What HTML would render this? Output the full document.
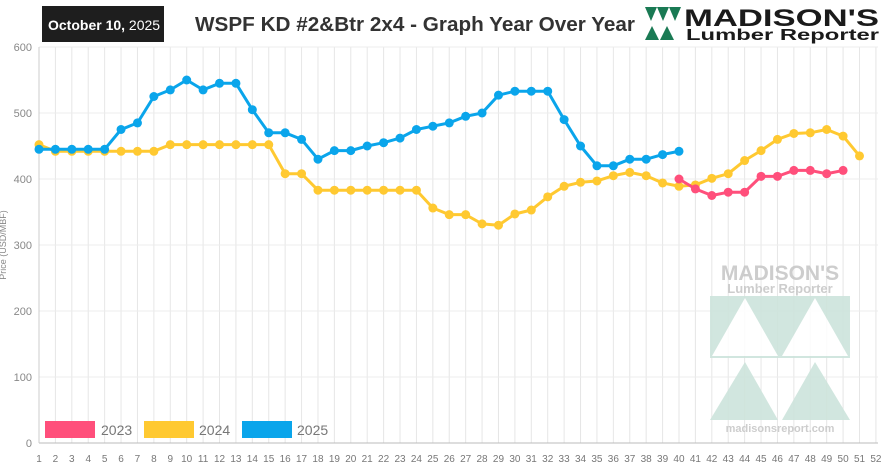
<!DOCTYPE html>
<html><head><meta charset="utf-8"><style>
body{margin:0;background:#fff;}
svg{display:block;font-family:"Liberation Sans",sans-serif;}
</style></head><body>
<svg width="896" height="476" viewBox="0 0 896 476" xmlns="http://www.w3.org/2000/svg">
<rect width="896" height="476" fill="#fff"/>
<g id="grid" stroke="#e6e6e6" stroke-width="1"></g>
<g id="hgrid" stroke="#ececec" stroke-width="1"></g>
<g opacity="0.9">
<text x="780" y="280" text-anchor="middle" font-size="21" font-weight="bold" fill="#c8c8c8">MADISON'S</text>
<text x="780" y="293" text-anchor="middle" font-size="13" font-weight="bold" fill="#c8c8c8">Lumber Reporter</text>
<rect x="710" y="296" width="140" height="62" fill="#cde4dc"/>
<polygon points="712,356 745,298 778,356" fill="#fff"/>
<polygon points="782,356 815,298 848,356" fill="#fff"/>
<polygon points="710,420 745,362 778,420" fill="#cde4dc"/>
<polygon points="782,420 815,362 850,420" fill="#cde4dc"/>
<text x="780" y="432" text-anchor="middle" font-size="11" font-weight="bold" fill="#c8c8c8">madisonsreport.com</text>
</g>
<line x1="39" y1="443" x2="878" y2="443" stroke="#bbb"/>
<line x1="39" y1="47" x2="39" y2="443" stroke="#ccc"/>
<g id="ylab" font-size="11" fill="#888" text-anchor="end"></g>
<g id="xlab" font-size="10" fill="#777" text-anchor="middle"></g>
<text transform="translate(6,245) rotate(-90)" font-size="9" fill="#888" text-anchor="middle">Price (USD/MBF)</text>
<g id="series"></g>
<rect x="42" y="6" width="122" height="36" fill="#1e1e1e"/>
<text x="48" y="30" font-size="14" fill="#fff"><tspan font-weight="bold">October 10,</tspan> 2025</text>
<text x="195" y="31" font-size="20" font-weight="bold" fill="#333" textLength="440" lengthAdjust="spacingAndGlyphs">WSPF KD #2&amp;Btr 2x4 - Graph Year Over Year</text>
<g fill="#1a7a54">
<polygon points="645,7 657,7 651,21"/><polygon points="657,7 669,7 663,21"/><polygon points="669,7 681,7 675,21"/>
<polygon points="645,40 652,26 659,40"/><polygon points="660,40 667,26 674,40"/>
</g>
<text x="684" y="26" font-size="24" font-weight="900" fill="#1a1a1a" textLength="195" lengthAdjust="spacingAndGlyphs">MADISON'S</text>
<text x="686" y="40" font-size="16" font-weight="bold" fill="#1a1a1a" textLength="193" lengthAdjust="spacingAndGlyphs">Lumber Reporter</text>
<rect x="45" y="421" width="50" height="17" fill="#ff4f7b"/><text x="101" y="435" font-size="14" fill="#777">2023</text>
<rect x="144" y="421" width="50" height="17" fill="#ffc931"/><text x="199" y="435" font-size="14" fill="#777">2024</text>
<rect x="242" y="421" width="50" height="17" fill="#0aa5eb"/><text x="297" y="435" font-size="14" fill="#777">2025</text>
</svg>
<script>
const X=w=>39+(w-1)*16.41, Y=v=>443-v*0.66, NS="http://www.w3.org/2000/svg";
function el(p,t,a,txt){const e=document.createElementNS(NS,t);for(const k in a)e.setAttribute(k,a[k]);if(txt!=null)e.textContent=txt;document.getElementById(p).appendChild(e);}
for(let w=1;w<=52;w++){el('grid','line',{x1:X(w),x2:X(w),y1:47,y2:443});el('xlab','text',{x:X(w),y:462},w);}
for(let v=0;v<=600;v+=100){el('hgrid','line',{x1:39,x2:878,y1:Y(v),y2:Y(v)});el('ylab','text',{x:32,y:Y(v)+4},v);}
const d23={40:400,41:385,42:375,43:380,44:380,45:404,46:404,47:413,48:413,49:408,50:413};
const d24=[452,442,442,442,442,442,442,442,452,452,452,452,452,452,452,408,408,383,383,383,383,383,383,383,356,346,346,332,330,347,353,373,389,395,397,405,410,405,394,389,391,401,408,428,443,460,469,470,475,465,435];
const d25=[445,445,445,445,445,475,485,525,535,550,535,545,545,505,470,470,460,430,443,443,450,455,462,475,480,485,495,500,527,533,533,533,490,450,420,420,430,430,437,442];
function draw(pts,c){el('series','polyline',{points:pts.map(p=>X(p[0])+','+Y(p[1])).join(' '),fill:'none',stroke:c,'stroke-width':3,'stroke-linejoin':'round'});pts.forEach(p=>el('series','circle',{cx:X(p[0]),cy:Y(p[1]),r:4.5,fill:c}));}
draw(d24.map((v,i)=>[i+1,v]),'#ffc931');
draw(Object.keys(d23).map(k=>[+k,d23[k]]),'#ff4f7b');
draw(d25.map((v,i)=>[i+1,v]),'#0aa5eb');
</script>
</body></html>
